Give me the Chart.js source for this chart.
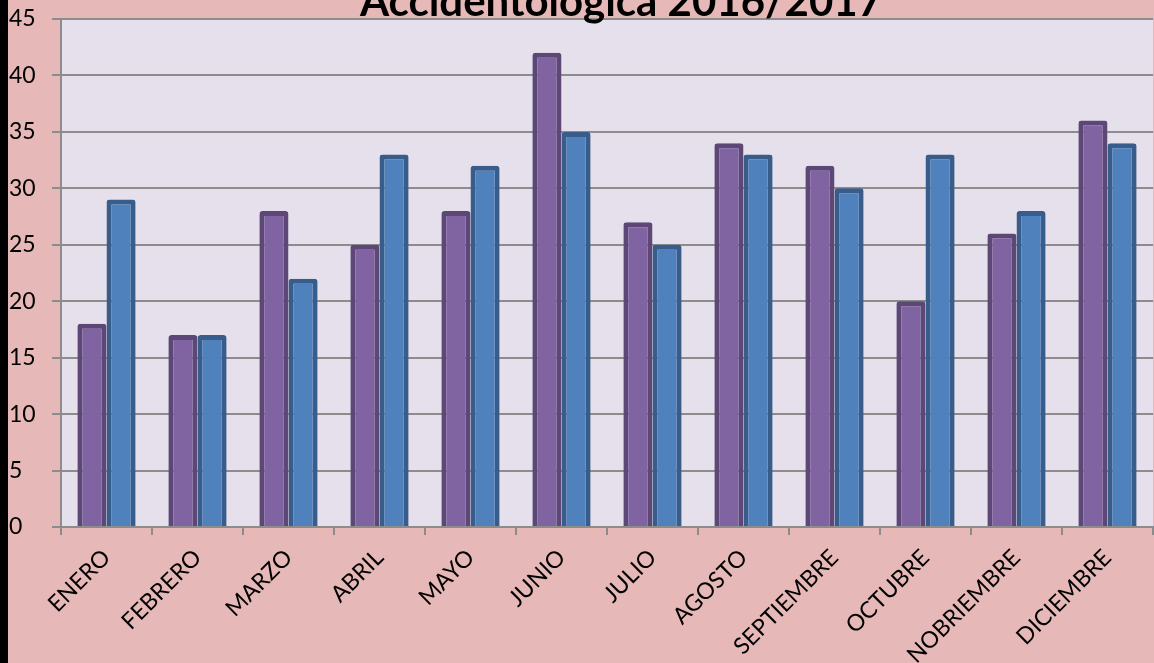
<!DOCTYPE html>
<html>
<head>
<meta charset="utf-8">
<script src="https://cdn.jsdelivr.net/npm/chart.js@4"></script>
<style>
  html, body { margin: 0; padding: 0; background: #E6B9B8; }
  #wrap { width: 1154px; height: 663px; position: relative; }
</style>
</head>
<body>
<div id="wrap"><canvas id="accChart" width="1154" height="663"></canvas></div>
<script>
// data
const meses = ['ENERO', 'FEBRERO', 'MARZO', 'ABRIL', 'MAYO', 'JUNIO', 'JULIO',
  'AGOSTO', 'SEPTIEMBRE', 'OCTUBRE', 'NOBRIEMBRE', 'DICIEMBRE'];
const serie2016 = [18, 17, 28, 25, 28, 42, 27, 34, 32, 20, 26, 36];
const serie2017 = [29, 17, 22, 33, 32, 35, 25, 33, 30, 33, 28, 34];
const yTicks = [0, 5, 10, 15, 20, 25, 30, 35, 40, 45];
const titulo = 'Accidentologica 2016/2017';

const FONT = 'Lato, "Open Sans", sans-serif';

// background, black strip on the left, plot area fill and title
const fondo = {
  id: 'fondo',
  beforeDraw(chart) {
    const ctx = chart.ctx;
    const a = chart.chartArea;
    ctx.save();
    ctx.fillStyle = '#E6B9B8';
    ctx.fillRect(0, 0, chart.width, chart.height);
    ctx.fillStyle = '#000000';
    ctx.fillRect(0, 0, 8, chart.height);
    ctx.fillStyle = '#E5E0EC';
    ctx.fillRect(a.left, a.top, a.right - a.left, a.bottom - a.top);
    ctx.restore();
  },
  afterDraw(chart) {
    const ctx = chart.ctx;
    ctx.save();
    ctx.fillStyle = '#000000';
    ctx.font = 'bold 42px ' + FONT;
    ctx.textAlign = 'center';
    ctx.textBaseline = 'alphabetic';
    ctx.fillText(titulo, 621, 16);
    ctx.restore();
  }
};

function showChart() {
  const ctx = document.getElementById('accChart').getContext('2d');
  new Chart(ctx, {
    type: 'bar',
    data: {
      labels: meses,
      datasets: [{
        label: '2016',
        data: serie2016,
        backgroundColor: '#8064A2',
        borderColor: '#5C4776',
        borderWidth: 5,
        borderRadius: 3,
        barPercentage: 1,
        categoryPercentage: 0.64
      }, {
        label: '2017',
        data: serie2017,
        backgroundColor: '#4F81BD',
        borderColor: '#385D8A',
        borderWidth: 5,
        borderRadius: 3,
        barPercentage: 1,
        categoryPercentage: 0.64
      }]
    },
    options: {
      responsive: false,
      animation: false,
      layout: { padding: { left: 9, top: 19, right: 1, bottom: 0 } },
      plugins: {
        legend: { display: false },
        title: { display: false },
        tooltip: { enabled: false }
      },
      scales: {
        x: {
          grid: {
            drawOnChartArea: false,
            drawTicks: true,
            tickLength: 8,
            color: '#8C8C8C',
            lineWidth: 2
          },
          border: { color: '#8C8C8C', width: 2 },
          ticks: {
            color: '#000000',
            font: { family: FONT, size: 23 },
            maxRotation: 45,
            minRotation: 45,
            autoSkip: false,
            padding: 9
          },
          afterFit(scale) { scale.height = 136; }
        },
        y: {
          min: 0,
          max: 45,
          afterBuildTicks(scale) {
            scale.ticks = yTicks.map(v => ({ value: v }));
          },
          grid: {
            color: '#8C8C8C',
            lineWidth: 2,
            tickLength: 9
          },
          border: { color: '#8C8C8C', width: 2 },
          ticks: {
            color: '#000000',
            font: { family: FONT, size: 23 },
            crossAlign: 'far',
            padding: 2
          },
          afterFit(scale) { scale.width = 52; }
        }
      }
    },
    plugins: [fondo]
  });
}

showChart();
</script>
</body>
</html>
